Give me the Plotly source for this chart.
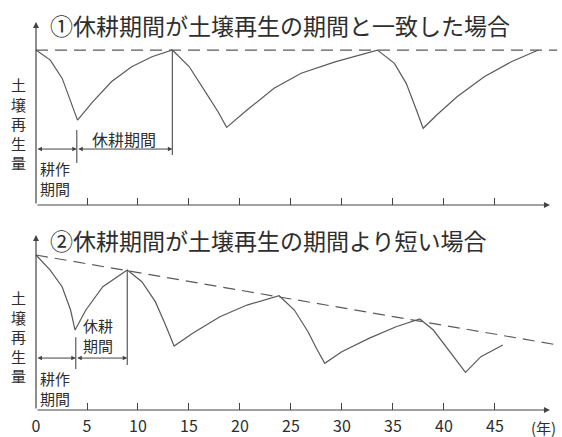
import plotly.graph_objects as go

# ---------------- data ----------------
# Panel 1: fallow period equals soil regeneration period
years_1 = [0, 1.4, 2.57, 3.4, 4.07, 5.56, 7.39, 9.38, 11.37, 13.37, 15.03, 16.70, 17.85, 18.69,
           20.69, 23.34, 26.0, 29.32, 33.48, 35.14, 36.30, 37.30, 37.96, 39.29, 41.28, 43.95, 46.6, 49.26]
values_1 = [100, 93.5, 81.7, 66.6, 54.8, 66.6, 79.5, 89.2, 95.7, 100, 89.2, 72.0, 60.2, 50.1,
            61.3, 75.3, 85.0, 92.4, 100, 91.4, 78.5, 61.3, 49.5, 58.1, 69.9, 82.8, 92.4, 100]
dash_years_1 = [0, 51.09]
dash_values_1 = [100, 100]

# Panel 2: fallow period shorter than soil regeneration period
years_2 = [0, 1.39, 2.56, 3.39, 3.83, 4.89, 6.55, 7.56, 8.95, 10.38, 11.70, 12.70, 13.54, 15.36,
           18.03, 20.69, 23.84, 25.33, 26.67, 27.49, 28.31, 29.98, 32.64, 35.30, 37.63, 38.96,
           40.29, 42.11, 43.62, 45.77]
values_2 = [100, 90.3, 79.5, 64.5, 51.6, 64.5, 79.5, 83.9, 90.3, 82.8, 69.9, 54.8, 41.3, 49.5,
            60.2, 67.7, 73.7, 64.5, 50.5, 39.8, 30.1, 37.6, 46.2, 53.7, 58.7, 51.6,
            39.8, 24.3, 34.4, 41.9]
dash_years_2 = [0, 50.76]
dash_values_2 = [100, 42.4]

# period markers (cultivation end, fallow end)
cult_end = [4.0, 3.9]
fallow_end = [13.37, 8.95]

tick_vals = [0, 5, 10, 15, 20, 25, 30, 35, 40, 45]
tick_text = ["0", "5", "10", "15", "20", "25", "30", "35", "40", "45"]

titles = ["①休耕期間が土壌再生の期間と一致した場合", "②休耕期間が土壌再生の期間より短い場合"]
ylabel = "土<br>壌<br>再<br>生<br>量"
unit_label = "(年)"

# ---------------- style ----------------
FONT = "Noto Sans CJK JP"
LINE = "#5a5a5a"
AXIS = "#444444"
TXT = "#2e2e2e"

fig = go.Figure()

def curve(x, y, xa, ya, dash=None):
    fig.add_trace(go.Scatter(x=x, y=y, xaxis=xa, yaxis=ya, mode="lines",
                             line=dict(color=LINE, width=1.2, dash=dash),
                             hoverinfo="skip", showlegend=False, cliponaxis=False))

curve(years_1, values_1, "x", "y")
curve(dash_years_1, dash_values_1, "x", "y", dash="12px,7px")
curve(years_2, values_2, "x2", "y2")
curve(dash_years_2, dash_values_2, "x2", "y2", dash="12px,7px")

# vertical marker lines
curve([fallow_end[0], fallow_end[0]], [100, 32.3], "x", "y")
curve([cult_end[0], cult_end[0]], [48.4, 27.1], "x", "y")
curve([fallow_end[1], fallow_end[1]], [values_2[8], 29.0], "x2", "y2")
curve([cult_end[1], cult_end[1]], [47.0, 26.4], "x2", "y2")

ann = []

def arrow(xh, yh, xt, yt, xr, yr, both=False, size=1.0, width=1.2):
    ann.append(dict(x=xh, y=yh, ax=xt, ay=yt, xref=xr, yref=yr, axref=xr, ayref=yr,
                    text="", showarrow=True, arrowhead=2, arrowsize=size,
                    arrowwidth=width, arrowcolor=AXIS,
                    arrowside="end+start" if both else "end",
                    startarrowhead=2, startarrowsize=size))

def text(x, y, s, xr, yr, size=16, xanchor="center"):
    ann.append(dict(x=x, y=y, xref=xr, yref=yr, text=s, showarrow=False,
                    xanchor=xanchor, yanchor="middle",
                    font=dict(family=FONT, size=size, color=TXT)))

# axes with arrows
arrow(50.39, 0, 0, 0, "x", "y")
arrow(0, 118.1, 0, 0, "x", "y")
arrow(50.39, 0, 0, 0, "x2", "y2")
arrow(0, 112.9, 0, 0, "x2", "y2")

# dimension arrows
arrow(cult_end[0], 36.1, 0, 36.1, "x", "y", both=True, size=0.9, width=1)
arrow(fallow_end[0], 36.1, cult_end[0], 36.1, "x", "y", both=True, size=0.9, width=1)
arrow(cult_end[1], 33.5, 0, 33.5, "x2", "y2", both=True, size=0.9, width=1)
arrow(fallow_end[1], 33.5, cult_end[1], 33.5, "x2", "y2", both=True, size=0.9, width=1)

# titles
text(1.18, 116.1, titles[0], "x", "y", size=23, xanchor="left")
text(1.18, 109.7, titles[1], "x2", "y2", size=23, xanchor="left")

# vertical y labels (x in paper coords, left of the axis)
text(-0.0325, 52.6, ylabel, "paper", "y", size=15)
text(-0.0325, 47.1, ylabel, "paper", "y2", size=15)

# period labels
text(8.63, 42.6, "休耕期間", "x", "y")
text(1.86, 16.8, "耕作<br>期間", "x", "y", size=15)
text(6.08, 48.3, "休耕<br>期間", "x2", "y2", size=15)
text(1.86, 13.9, "耕作<br>期間", "x2", "y2", size=15)

# unit label (below the axis, paper coords)
text(0.973, -0.0415, unit_label, "paper", "paper", size=15)

xcommon = dict(range=[-0.098, 51.18], showgrid=False, zeroline=False, showline=False,
               tickmode="array", tickvals=tick_vals, ticks="inside", ticklen=7,
               tickwidth=1, tickcolor=AXIS, fixedrange=True)
ycommon = dict(showgrid=False, zeroline=False, showline=False, showticklabels=False,
               ticks="", fixedrange=True)

fig.update_layout(
    width=562, height=437,
    margin=dict(l=35, r=4, t=0, b=27),
    paper_bgcolor="white", plot_bgcolor="white",
    font=dict(family=FONT, color=TXT),
    xaxis=dict(**xcommon, anchor="y", showticklabels=False),
    yaxis=dict(**ycommon, domain=[0.5, 0.94634], range=[0, 118.1], anchor="x"),
    xaxis2=dict(**xcommon, anchor="y2", showticklabels=True, ticktext=tick_text,
                ticklabelstandoff=5,
                tickfont=dict(family=FONT, size=16, color=TXT)),
    yaxis2=dict(**ycommon, domain=[0, 0.42683], range=[0, 112.9], anchor="x2"),
    annotations=ann,
    showlegend=False,
)

fig.write_html("out.html", config={"displayModeBar": False},
               post_script="document.body.style.margin='0';")
